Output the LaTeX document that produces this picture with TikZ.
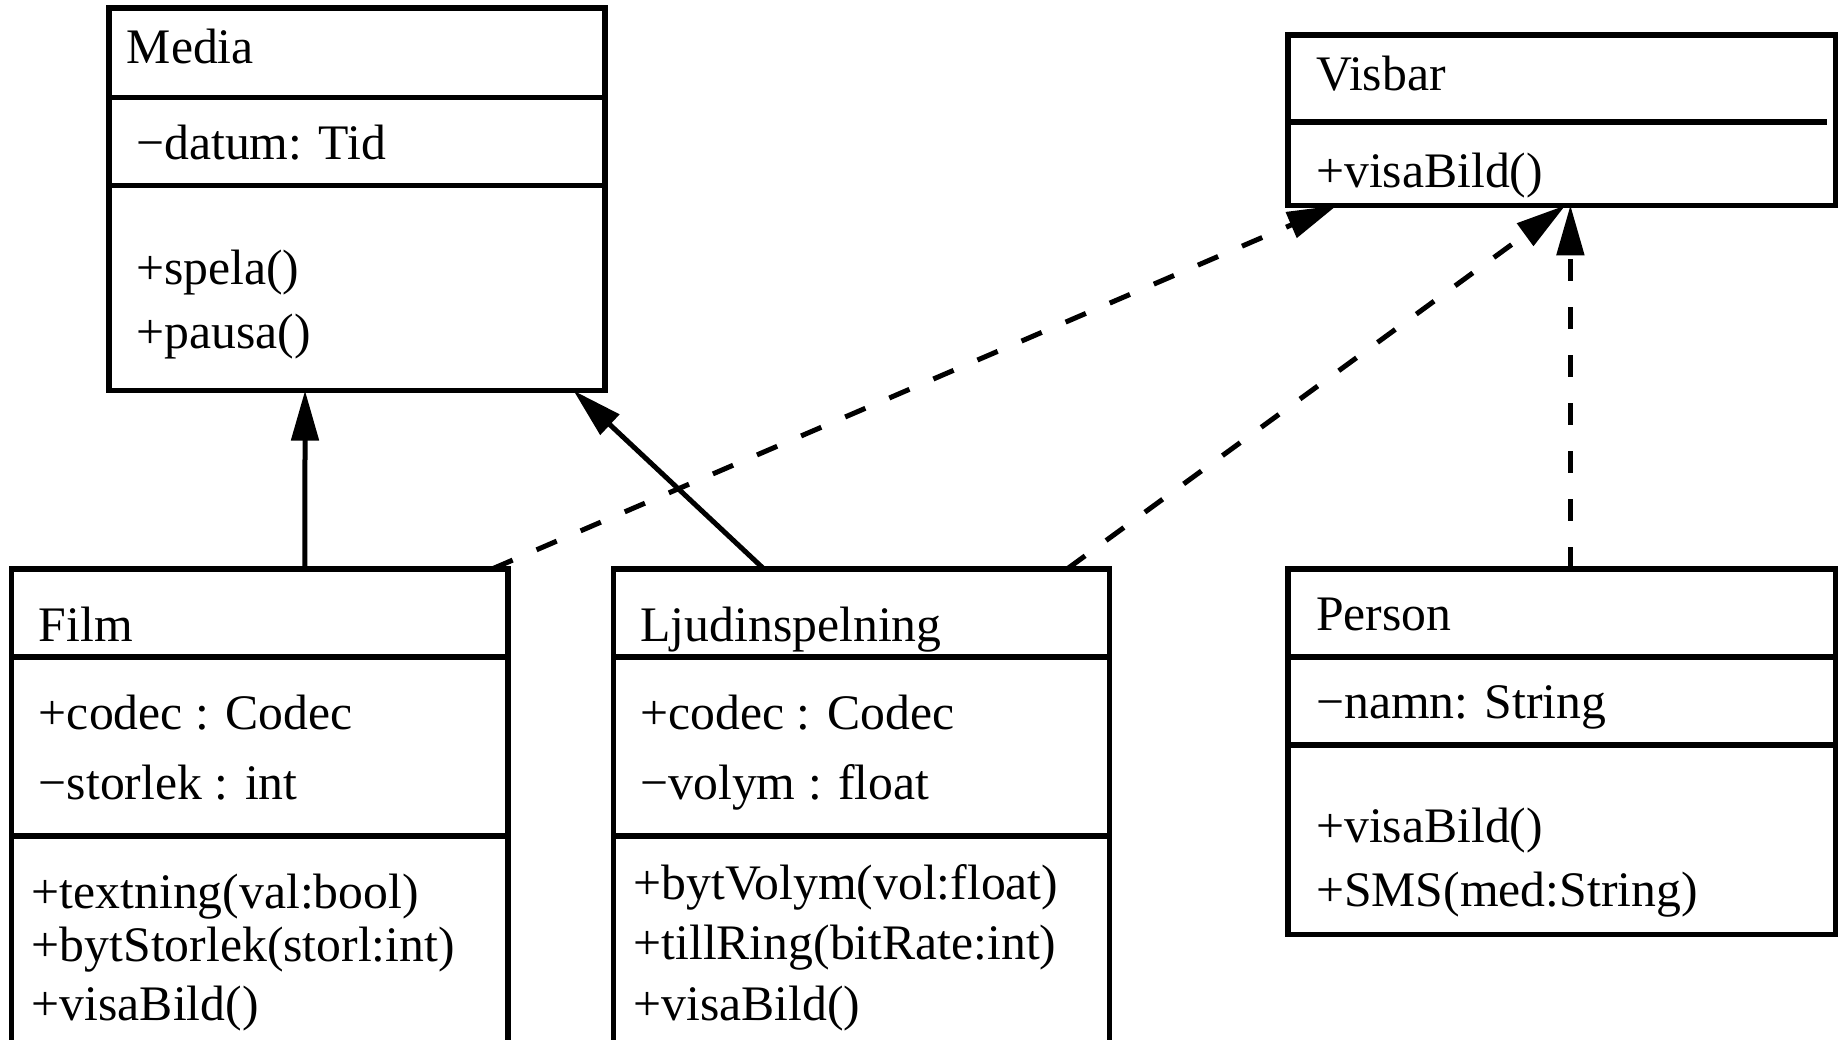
\documentclass[tikz,border=0pt]{standalone}
\usepackage{fontspec}
\setmainfont{Liberation Serif}
\usetikzlibrary{arrows.meta,calc}
\begin{document}
\begin{tikzpicture}[x=1.1728pt,y=-1.1728pt,
  box/.style={draw,line width=5.5pt,inner sep=0pt,outer sep=0pt,rectangle},
  sep/.style={line width=5.5pt},
  lbl/.style={anchor=base west,inner sep=0pt,font=\fontsize{49.7pt}{60pt}\selectfont},
  gen/.style={line width=5pt,-{Triangle[length=50pt,width=27pt]}},
  real/.style={gen,dash pattern=on 22pt off 26pt}]
\useasboundingbox (0,0) rectangle (1568,886);
\clip (0,0) rectangle (1568,886);
% boxes
\node[box,minimum width=496.1pt,minimum height=382.3pt] (media) at (304.5,170) {};
\node[box,minimum width=547.7pt,minimum height=170.1pt] (visbar) at (1331.5,102.5) {};
\node[box,minimum width=496.1pt,minimum height=480.9pt] (film) at (221.5,690) {};
\node[box,minimum width=496.1pt,minimum height=480.9pt] (ljud) at (734.5,690) {};
\node[box,minimum width=547.7pt,minimum height=365.9pt] (person) at (1331.5,641) {};
% dividers
\draw[sep] (media.west |- 0,83) -- (media.east |- 0,83);
\draw[sep] (media.west |- 0,158) -- (media.east |- 0,158);
\draw[sep] (visbar.west |- 0,104) -- (1558,104);
\draw[sep] (film.west |- 0,560) -- (film.east |- 0,560);
\draw[sep] (film.west |- 0,713) -- (film.east |- 0,713);
\draw[sep] (ljud.west |- 0,560) -- (ljud.east |- 0,560);
\draw[sep] (ljud.west |- 0,713) -- (ljud.east |- 0,713);
\draw[sep] (person.west |- 0,560) -- (person.east |- 0,560);
\draw[sep] (person.west |- 0,635) -- (person.east |- 0,635);
% texts
\node[lbl] (m1) at (108,54) {Media};
\node[lbl] (m2) at (116,136) {−datum: Tid};
\node[lbl] (m3) at (116,243) {+spela()};
\node[lbl] (m4) at (116,297) {+pausa()};
\node[lbl] (v1) at (1122,77) {Visbar};
\node[lbl] (v2) at (1122,160) {+visaBild()};
\node[lbl] (f1) at (33,547) {Film};
\node[lbl] (f2) at (33,622) {+codec : Codec};
\node[lbl] (f3) at (33,682) {−storlek : int};
\node[lbl] (f4) at (27,775) {+textning(val:bool)};
\node[lbl] (f5) at (27,820) {+bytStorlek(storl:int)};
\node[lbl] (f6) at (27,870) {+visaBild()};
\node[lbl] (l1) at (546,547) {Ljudinspelning};
\node[lbl] (l2) at (546,622) {+codec : Codec};
\node[lbl] (l3) at (546,682) {−volym : float};
\node[lbl] (l4) at (540,767) {+bytVolym(vol:float)};
\node[lbl] (l5) at (540,818) {+tillRing(bitRate:int)};
\node[lbl] (l6) at (540,870) {+visaBild()};
\node[lbl] (p1) at (1122,538) {Person};
\node[lbl] (p2) at (1122,613) {−namn: String};
\node[lbl] (p3) at (1122,718) {+visaBild()};
\node[lbl] (p4) at (1122,773) {+SMS(med:String)};
% connectors
\draw[gen] ($(film.north west)!0.591!(film.north east)$) -- ($(media.south west)!0.395!(media.south east)$);
\draw[gen] ($(ljud.north west)!0.303!(ljud.north east)$) -- ($(media.south west)!0.936!(media.south east)$);
\draw[real] ($(film.north west)!0.969!(film.north east)$) -- ($(visbar.south west)!0.09!(visbar.south east)$);
\draw[real] ($(ljud.north west)!0.915!(ljud.north east)$) -- ($(visbar.south west)!0.507!(visbar.south east)$);
\draw[real] ($(person.north west)!0.516!(person.north east)$) -- ($(visbar.south west)!0.516!(visbar.south east)$);
\end{tikzpicture}
\end{document}
